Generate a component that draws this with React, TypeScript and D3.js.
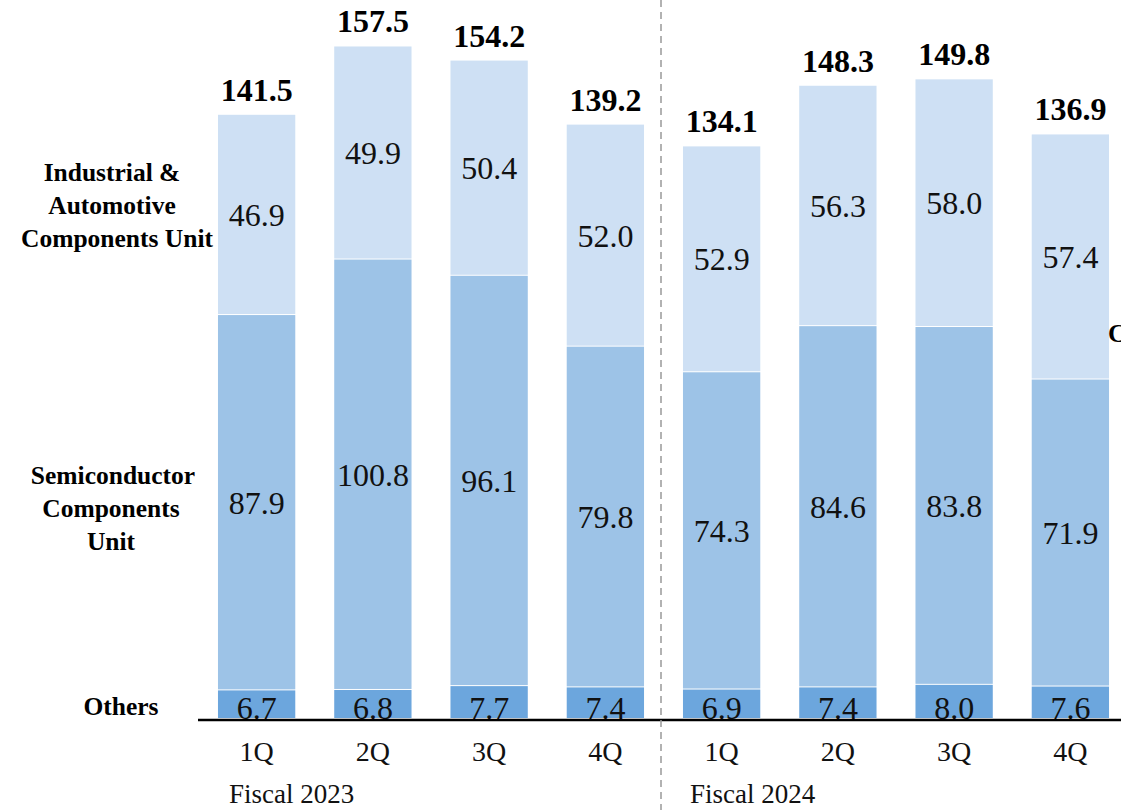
import React from "react";
import * as d3 from "d3";

const categories = ["2023-1Q", "2023-2Q", "2023-3Q", "2023-4Q", "2024-1Q", "2024-2Q", "2024-3Q", "2024-4Q"];
const tickLabels = ["1Q", "2Q", "3Q", "4Q", "1Q", "2Q", "3Q", "4Q"];
const others = [6.7, 6.8, 7.7, 7.4, 6.9, 7.4, 8.0, 7.6];
const semiconductor = [87.9, 100.8, 96.1, 79.8, 74.3, 84.6, 83.8, 71.9];
const industrial = [46.9, 49.9, 50.4, 52.0, 52.9, 56.3, 58.0, 57.4];
const totals = [141.5, 157.5, 154.2, 139.2, 134.1, 148.3, 149.8, 136.9];
const seriesNames = ["Others", "Semiconductor", "Industrial"];
const fiscalLabels = ["Fiscal 2023", "Fiscal 2024"];

const colors = ["#6CA6DD", "#9DC3E7", "#CEE0F4"];
const font = "'Liberation Serif', 'DejaVu Serif', serif";

export default function App() {
  const W = 1121, H = 810;
  const x = d3.scaleBand<string>().domain(categories).range([198.5, 1128.5]).paddingInner(0.335).paddingOuter(0.1675);
  const y = d3.scaleLinear().domain([0, 160]).range([719, 719 - 160 * 4.27]);

  const rows = categories.map((c, i) => ({ cat: c, Others: others[i], Semiconductor: semiconductor[i], Industrial: industrial[i] }));
  const stack = d3.stack<any>().keys(seriesNames);
  const layers = stack(rows);
  const bw = x.bandwidth();

  return (
    <svg width={W} height={H} style={{ position: "absolute", left: 0, top: 0, background: "#fff" }} fontFamily={font}>
      <rect width={W} height={H} fill="#fff" />
      {layers.map((layer, li) =>
        layer.map((d, i) => {
          const x0 = x(categories[i])!;
          const top = y(d[1]);
          const bot = y(d[0]);
          return (
            <g key={`${li}-${i}`}>
              <rect x={x0} y={top} width={bw} height={Math.max(0, bot - top - 1)} fill={colors[li]} />
              <text
                x={x0 + bw / 2}
                y={li === 0 ? bot : (top + bot) / 2 + 11}
                textAnchor="middle"
                fontSize={32}
                fill="#111"
              >
                {(d[1] - d[0]).toFixed(1)}
              </text>
            </g>
          );
        })
      )}
      {totals.map((t, i) => (
        <text key={`t${i}`} x={x(categories[i])! + bw / 2} y={y(t) - 14} textAnchor="middle" fontSize={32} fontWeight="bold" fill="#000">
          {t.toFixed(1)}
        </text>
      ))}
      <line x1={198} x2={W} y1={720} y2={720} stroke="#000" strokeWidth={2.5} />
      <line x1={661} x2={661} y1={0} y2={H} stroke="#999" strokeWidth={1.5} strokeDasharray="7,5" />
      {tickLabels.map((t, i) => (
        <text key={`k${i}`} x={x(categories[i])! + bw / 2} y={761} textAnchor="middle" fontSize={28} fill="#111">
          {t}
        </text>
      ))}
      <text x={229} y={803} fontSize={27} fill="#111">{fiscalLabels[0]}</text>
      <text x={690} y={803} fontSize={27} fill="#111">{fiscalLabels[1]}</text>
      <g fontWeight="bold" fontSize={25.5} textAnchor="middle" fill="#000">
        <text x={112} y={181}>Industrial &amp;</text>
        <text x={112} y={214}>Automotive</text>
        <text x={117} y={247}>Components Unit</text>
        <text x={113} y={484}>Semiconductor</text>
        <text x={111} y={517}>Components</text>
        <text x={111} y={550}>Unit</text>
        <text x={121} y={715}>Others</text>
      </g>
      <text x={1108} y={342} fontSize={25.5} fontWeight="bold" fill="#000">C</text>
    </svg>
  );
}
